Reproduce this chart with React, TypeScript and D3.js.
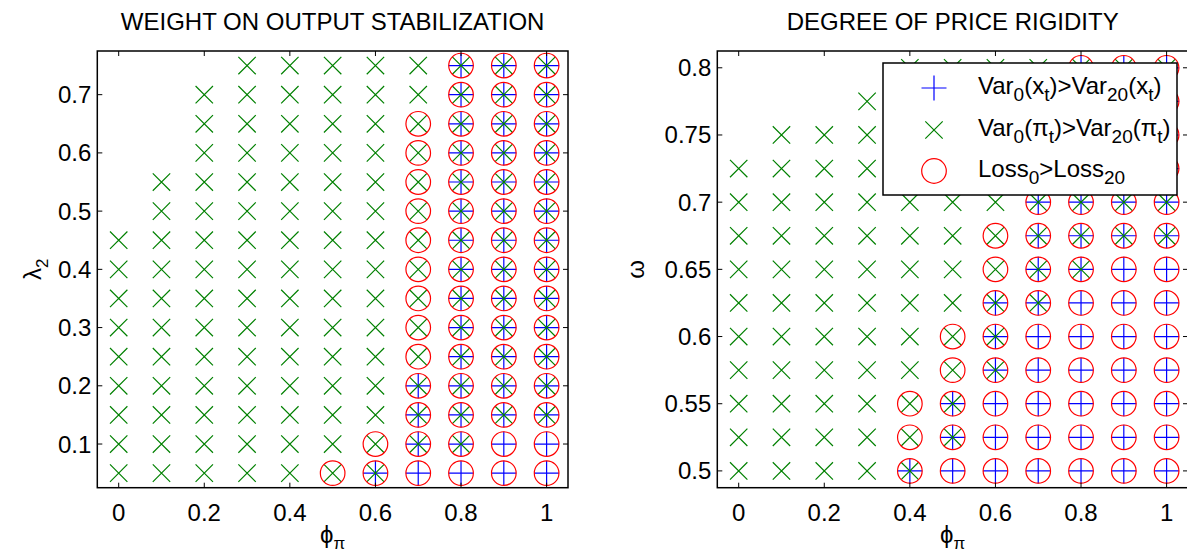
import React from 'react';
import * as d3 from 'd3';

// x values (phi_pi), shared by both panels
const phiPi = [0, 0.1, 0.2, 0.3, 0.4, 0.5, 0.6, 0.7, 0.8, 0.9, 1];
const xTicks = [0, 0.2, 0.4, 0.6, 0.8, 1];

// Left panel: lambda_2 rows (top to bottom)
const lambda2 = [0.75, 0.7, 0.65, 0.6, 0.55, 0.5, 0.45, 0.4, 0.35, 0.3, 0.25, 0.2, 0.15, 0.1, 0.05];
const leftYTicks = [0.1, 0.2, 0.3, 0.4, 0.5, 0.6, 0.7];
// codes: 1 = Var0(x)>Var20(x) (+), 2 = Var0(pi)>Var20(pi) (x), 4 = Loss0>Loss20 (o)
const leftGrid = [
  [0, 0, 0, 2, 2, 2, 2, 2, 7, 7, 7],
  [0, 0, 2, 2, 2, 2, 2, 2, 7, 7, 7],
  [0, 0, 2, 2, 2, 2, 2, 6, 7, 7, 7],
  [0, 0, 2, 2, 2, 2, 2, 6, 7, 7, 7],
  [0, 2, 2, 2, 2, 2, 2, 6, 7, 7, 7],
  [0, 2, 2, 2, 2, 2, 2, 6, 7, 7, 7],
  [2, 2, 2, 2, 2, 2, 2, 6, 7, 7, 7],
  [2, 2, 2, 2, 2, 2, 2, 6, 7, 7, 7],
  [2, 2, 2, 2, 2, 2, 2, 6, 7, 7, 7],
  [2, 2, 2, 2, 2, 2, 2, 6, 7, 7, 7],
  [2, 2, 2, 2, 2, 2, 2, 6, 7, 7, 7],
  [2, 2, 2, 2, 2, 2, 2, 7, 7, 7, 7],
  [2, 2, 2, 2, 2, 2, 2, 7, 7, 7, 7],
  [2, 2, 2, 2, 2, 2, 6, 7, 7, 5, 5],
  [2, 2, 2, 2, 2, 6, 7, 5, 5, 5, 5],
];

// Right panel: omega rows (top to bottom)
const omega = [0.8, 0.775, 0.75, 0.725, 0.7, 0.675, 0.65, 0.625, 0.6, 0.575, 0.55, 0.525, 0.5];
const rightYTicks = [0.5, 0.55, 0.6, 0.65, 0.7, 0.75, 0.8];
const rightGrid = [
  [0, 0, 0, 0, 2, 2, 2, 2, 7, 7, 7],
  [0, 0, 0, 2, 2, 2, 2, 2, 7, 7, 7],
  [0, 2, 2, 2, 2, 2, 2, 2, 7, 7, 7],
  [2, 2, 2, 2, 2, 2, 2, 6, 7, 7, 7],
  [2, 2, 2, 2, 2, 2, 2, 7, 7, 7, 7],
  [2, 2, 2, 2, 2, 2, 6, 7, 7, 7, 7],
  [2, 2, 2, 2, 2, 2, 6, 7, 7, 5, 5],
  [2, 2, 2, 2, 2, 2, 7, 7, 5, 5, 5],
  [2, 2, 2, 2, 2, 6, 7, 5, 5, 5, 5],
  [2, 2, 2, 2, 2, 6, 7, 5, 5, 5, 5],
  [2, 2, 2, 2, 6, 7, 5, 5, 5, 5, 5],
  [2, 2, 2, 2, 6, 7, 5, 5, 5, 5, 5],
  [2, 2, 2, 2, 7, 5, 5, 5, 5, 5, 5],
];

const FONT = "'Liberation Sans', Arial, Helvetica, sans-serif";
const FS = 24;
const BLUE = '#0000ff';
const GREEN = '#008000';
const RED = '#ff0000';
const PLUS = 12.5;
const CROSS = 8.7;
const RAD = 12.3;
const SW = 1.2;

const fmt = (v: number) => String(+v.toFixed(3));

function Plus({ x, y }: { x: number; y: number }) {
  return (
    <path d={`M${x - PLUS},${y}H${x + PLUS}M${x},${y - PLUS}V${y + PLUS}`} stroke={BLUE} strokeWidth={SW} fill="none" />
  );
}
function Cross({ x, y }: { x: number; y: number }) {
  return (
    <path
      d={`M${x - CROSS},${y - CROSS}L${x + CROSS},${y + CROSS}M${x - CROSS},${y + CROSS}L${x + CROSS},${y - CROSS}`}
      stroke={GREEN}
      strokeWidth={SW}
      fill="none"
    />
  );
}
function Circ({ x, y }: { x: number; y: number }) {
  return <circle cx={x} cy={y} r={RAD} stroke={RED} strokeWidth={SW} fill="none" />;
}

type PanelProps = {
  x0: number;
  x1: number;
  y0: number;
  y1: number;
  yDomain: [number, number];
  rows: number[];
  grid: number[][];
  yTicks: number[];
  title: string;
  ylabel: React.ReactNode;
  ylabelX: number;
  legend?: boolean;
};

function Panel(p: PanelProps) {
  const xs = d3.scaleLinear().domain([-0.05, 1.05]).range([p.x0, p.x1]);
  const ys = d3.scaleLinear().domain(p.yDomain).range([p.y1, p.y0]);
  const pts: { x: number; y: number; c: number }[] = [];
  p.grid.forEach((row, i) => row.forEach((c, j) => pts.push({ x: xs(phiPi[j]), y: ys(p.rows[i]), c })));
  const TL = 5;
  const cx = (p.x0 + p.x1) / 2;
  const cy = (p.y0 + p.y1) / 2;
  return (
    <g fontFamily={FONT} fontSize={FS} fill="#000">
      <text x={cx} y={30} textAnchor="middle">{p.title}</text>
      {pts.filter(d => d.c & 1).map((d, i) => <Plus key={'p' + i} x={d.x} y={d.y} />)}
      {pts.filter(d => d.c & 2).map((d, i) => <Cross key={'x' + i} x={d.x} y={d.y} />)}
      {pts.filter(d => d.c & 4).map((d, i) => <Circ key={'o' + i} x={d.x} y={d.y} />)}
      {xTicks.map(t => (
        <g key={'xt' + t}>
          <line x1={xs(t)} x2={xs(t)} y1={p.y1} y2={p.y1 - TL} stroke="#000" strokeWidth={1} />
          <line x1={xs(t)} x2={xs(t)} y1={p.y0} y2={p.y0 + TL} stroke="#000" strokeWidth={1} />
          <text x={xs(t)} y={p.y1 + 33} textAnchor="middle">{fmt(t)}</text>
        </g>
      ))}
      {p.yTicks.map(t => (
        <g key={'yt' + t}>
          <line x1={p.x0} x2={p.x0 + TL} y1={ys(t)} y2={ys(t)} stroke="#000" strokeWidth={1} />
          <line x1={p.x1} x2={p.x1 - TL} y1={ys(t)} y2={ys(t)} stroke="#000" strokeWidth={1} />
          <text x={p.x0 - 6} y={ys(t) + 8.5} textAnchor="end">{fmt(t)}</text>
        </g>
      ))}
      <rect x={p.x0} y={p.y0} width={p.x1 - p.x0} height={p.y1 - p.y0} fill="none" stroke="#000" strokeWidth={1.5} />
      <text x={cx} y={p.y1 + 55} textAnchor="middle">
        {'\u03D5'}
        <tspan dy={6} fontSize={17}>{'\u03C0'}</tspan>
      </text>
      <text transform={`translate(${p.ylabelX},${cy}) rotate(-90)`} textAnchor="middle">{p.ylabel}</text>
      {p.legend && <Legend />}
    </g>
  );
}

const legendLabels = ['x', 'pi', 'loss'];

function Legend() {
  const bx = 883, by = 63, bw = 294, bh = 132;
  const rowY = [88, 130, 171];
  const mx = 934;
  const tx = 978;
  const SUB = 19;
  const sub = (s: string) => (
    <tspan dy={7} fontSize={SUB}>{s}</tspan>
  );
  const up = (s: string) => <tspan dy={-7}>{s}</tspan>;
  return (
    <g>
      <rect x={bx} y={by} width={bw} height={bh} fill="#fff" stroke="#000" strokeWidth={1.5} />
      {legendLabels.map((k, i) => {
        const y = rowY[i];
        return (
          <g key={k}>
            {k === 'x' && <Plus x={mx} y={y} />}
            {k === 'pi' && <Cross x={mx} y={y} />}
            {k === 'loss' && <Circ x={mx} y={y} />}
            {k === 'x' && (
              <text x={tx} y={y + 6}>
                Var{sub('0')}{up('(x')}{sub('t')}{up(')>Var')}{sub('20')}{up('(x')}{sub('t')}{up(')')}
              </text>
            )}
            {k === 'pi' && (
              <text x={tx} y={y + 6}>
                Var{sub('0')}{up('(\u03C0')}{sub('t')}{up(')>Var')}{sub('20')}{up('(\u03C0')}{sub('t')}{up(')')}
              </text>
            )}
            {k === 'loss' && (
              <text x={tx} y={y + 6}>
                Loss{sub('0')}{up('>Loss')}{sub('20')}
              </text>
            )}
          </g>
        );
      })}
    </g>
  );
}

export default function App() {
  return (
    <svg width={1187} height={557} style={{ position: 'absolute', left: 0, top: 0, background: '#fff' }}>
      <rect width={1187} height={557} fill="#fff" />
      <Panel
        x0={97.3}
        x1={568}
        y0={51}
        y1={487.7}
        yDomain={[0.025, 0.775]}
        rows={lambda2}
        grid={leftGrid}
        yTicks={leftYTicks}
        title="WEIGHT ON OUTPUT STABILIZATION"
        ylabelX={41}
        ylabel={<>{'\u03BB'}<tspan dy={7} fontSize={17}>2</tspan></>}
      />
      <Panel
        x0={717.3}
        x1={1188}
        y0={51}
        y1={487.7}
        yDomain={[0.4875, 0.8125]}
        rows={omega}
        grid={rightGrid}
        yTicks={rightYTicks}
        title="DEGREE OF PRICE RIGIDITY"
        ylabelX={644}
        ylabel={'\u03C9'}
        legend
      />
    </svg>
  );
}
